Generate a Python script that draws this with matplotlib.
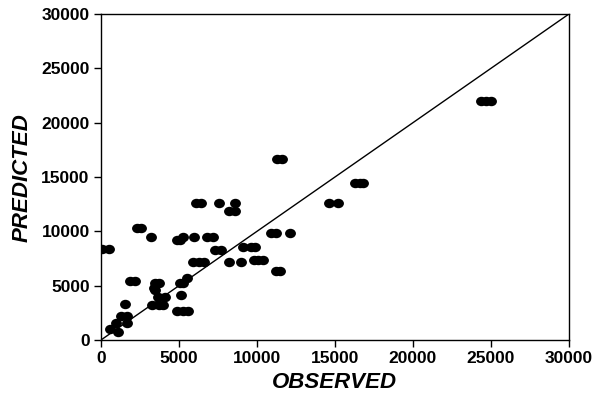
import matplotlib.pyplot as plt
from matplotlib.path import Path
from matplotlib.transforms import Affine2D

plt.rcParams['font.family'] = ['Liberation Sans', 'DejaVu Sans']

# observed / predicted pairs
observed = [24400, 24700, 25000,
            11300, 11600,
            16300, 16600, 16800,
            14600, 15200,
            6100, 6400, 7600, 8600,
            8200, 8600,
            2300, 2600,
            10900, 11200, 12100,
            3200, 5300, 6000, 6800, 7200,
            4900, 5100,
            9100, 9600, 9900,
            100, 500,
            7300, 7700,
            9800, 10100, 10400,
            5900, 6300, 6600, 8200, 9000,
            11200, 11500,
            5500,
            1900, 2200,
            3500, 3700, 5100, 5300,
            3400, 3500,
            5150,
            3650, 4100,
            3300, 3700, 4000,
            4900, 5300, 5600,
            1550,
            1300, 1700,
            1000, 1700,
            600, 1100]
predicted = [22000, 22000, 22000,
             16650, 16650,
             14450, 14450, 14450,
             12600, 12600,
             12600, 12600, 12600, 12600,
             11850, 11850,
             10300, 10300,
             9850, 9850, 9850,
             9480, 9480, 9480, 9480, 9480,
             9200, 9200,
             8560, 8560, 8560,
             8400, 8400,
             8300, 8300,
             7400, 7400, 7400,
             7180, 7180, 7180, 7180, 7180,
             6350, 6350,
             5700,
             5430, 5430,
             5240, 5240, 5240, 5240,
             4780, 4600,
             4140,
             3960, 3960,
             3220, 3220, 3220,
             2670, 2670, 2670,
             3300,
             2200, 2200,
             1560, 1560,
             1010, 740]

ticks = [0, 5000, 10000, 15000, 20000, 25000, 30000]

# slightly flattened dot, like the original
ellipse = Path.unit_circle().transformed(Affine2D().scale(1.0, 0.85))

fig = plt.figure(figsize=(6, 4.03), dpi=100)
ax = fig.add_axes([0.168, 0.156, 0.78, 0.809])

ax.plot([0, 30000], [0, 30000], color='black', lw=1)
ax.plot(observed, predicted, linestyle='none', marker=ellipse, color='black', ms=6.8, mec='black')

ax.set_xlim(0, 30000)
ax.set_ylim(0, 30000)
ax.set_xticks(ticks)
ax.set_yticks(ticks)
ax.tick_params(direction='out', length=5, width=1, labelsize=12.5, pad=3)
for lab in ax.get_xticklabels() + ax.get_yticklabels():
    lab.set_fontweight('bold')
for s in ax.spines.values():
    s.set_linewidth(1)

ax.set_xlabel('OBSERVED', fontsize=16, fontweight='bold', fontstyle='italic', labelpad=4)
ax.set_ylabel('PREDICTED', fontsize=16, fontweight='bold', fontstyle='italic', labelpad=6)

fig.savefig('out.png', dpi=100)
